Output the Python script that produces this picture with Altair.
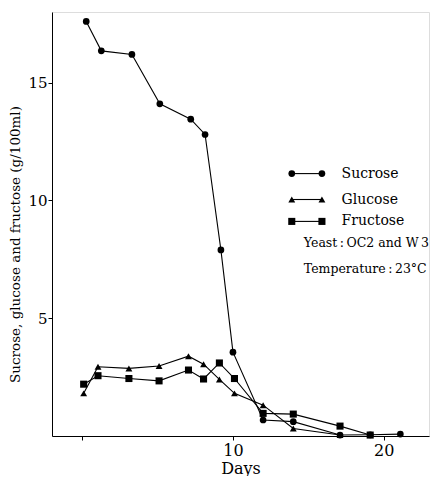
import altair as alt
import pandas as pd

# ---- data ----
sucrose_days = [0.27, 1.27, 3.3, 5.15, 7.2, 8.15, 9.2, 10.0, 12.0, 14.0, 17.1, 19.1, 21.1]
sucrose_vals = [17.6, 16.35, 16.2, 14.1, 13.45, 12.8, 7.9, 3.56, 0.68, 0.61, 0.04, 0.05, 0.08]

glucose_days = [0.1, 1.05, 3.1, 5.1, 7.05, 8.05, 9.1, 10.1, 12.0, 14.0, 17.1]
glucose_vals = [1.81, 2.94, 2.87, 2.97, 3.39, 3.05, 2.4, 1.81, 1.31, 0.32, 0.04]

fructose_days = [0.1, 1.05, 3.1, 5.1, 7.05, 8.05, 9.1, 10.1, 12.0, 14.0, 17.1, 19.1]
fructose_vals = [2.2, 2.56, 2.44, 2.34, 2.8, 2.42, 3.1, 2.44, 0.96, 0.93, 0.42, 0.04]

series_names = ["Sucrose", "Glucose", "Fructose"]
series_shapes = ["circle", "triangle-up", "square"]
note_lines = ["Yeast\u2009:\u2009OC2 and W\u20093", "Temperature\u2009:\u200923\u00b0C"]

x_ticks = [0, 10, 20]
y_ticks = [5, 10, 15]

rows = []
for name, ds, vs in zip(series_names,
                        [sucrose_days, glucose_days, fructose_days],
                        [sucrose_vals, glucose_vals, fructose_vals]):
    for d, v in zip(ds, vs):
        rows.append({"series": name, "day": d, "value": v})
df = pd.DataFrame(rows)

# legend (placed in data space inside the plot)
leg_y = [11.14, 10.04, 9.11]
leg = pd.DataFrame({"series": series_names, "x1": [13.9] * 3, "x2": [15.9] * 3,
                    "tx": [17.2] * 3, "y": leg_y})
leg_pts = pd.concat([leg.assign(px=leg["x1"]), leg.assign(px=leg["x2"])])
notes = pd.DataFrame({"text": note_lines, "x": [14.7, 14.7], "y": [8.2, 7.1]})

FONT = "DejaVu Serif"
xs = alt.Scale(domain=[-2, 23], nice=False, zero=False)
ys = alt.Scale(domain=[0, 18], nice=False)
shape_scale = alt.Scale(domain=series_names, range=series_shapes)

lines = alt.Chart(df).mark_line(color="black", strokeWidth=1.1).encode(
    x=alt.X("day:Q", scale=xs, title="Days",
            axis=alt.Axis(values=x_ticks, labelExpr="datum.value == 0 ? '' : datum.label",
                          grid=False, domainColor="black", tickColor="black",
                          tickSize=4, labelFont=FONT, labelFontSize=16, labelColor="black",
                          labelPadding=2, titleFont=FONT, titleFontSize=16,
                          titleFontWeight="normal", titleColor="black", titlePadding=2)),
    y=alt.Y("value:Q", scale=ys, title="Sucrose, glucose and fructose (g/100ml)",
            axis=alt.Axis(values=y_ticks, grid=False, domainColor="black", tickColor="black",
                          tickSize=4, labelFont=FONT, labelFontSize=15, labelColor="black",
                          labelPadding=1, titleFont=FONT, titleFontSize=13.5,
                          titleFontWeight="normal", titleColor="black", titlePadding=5,
                          titleY=232)),
    detail="series:N",
)

points = alt.Chart(df).mark_point(filled=True, color="black", opacity=1).encode(
    x=alt.X("day:Q", scale=xs),
    y=alt.Y("value:Q", scale=ys),
    shape=alt.Shape("series:N", scale=shape_scale, legend=None),
    size=alt.Size("series:N", scale=alt.Scale(domain=series_names, range=[45, 50, 42]), legend=None),
)

leg_lines = alt.Chart(leg).mark_rule(color="black", strokeWidth=1.1).encode(
    x=alt.X("x1:Q", scale=xs), x2="x2:Q", y=alt.Y("y:Q", scale=ys))
leg_marks = alt.Chart(leg_pts).mark_point(filled=True, color="black", opacity=1).encode(
    x=alt.X("px:Q", scale=xs), y=alt.Y("y:Q", scale=ys),
    shape=alt.Shape("series:N", scale=shape_scale, legend=None),
    size=alt.Size("series:N", scale=alt.Scale(domain=series_names, range=[40, 45, 38]), legend=None))
leg_text = alt.Chart(leg).mark_text(align="left", baseline="middle", font=FONT,
                                    fontSize=14, color="black").encode(
    x=alt.X("tx:Q", scale=xs), y=alt.Y("y:Q", scale=ys), text="series:N")
note_text = alt.Chart(notes).mark_text(align="left", baseline="middle", font=FONT,
                                       fontSize=12.5, color="black").encode(
    x=alt.X("x:Q", scale=xs), y=alt.Y("y:Q", scale=ys), text="text:N")

chart = alt.layer(lines, points, leg_lines, leg_marks, leg_text, note_text).properties(
    width=377, height=424,
    padding={"left": 0, "top": 4, "right": 0, "bottom": 0},
).configure_view(stroke=None).configure(background="white")

chart.save("out.html", embed_options={"renderer": "svg", "actions": False})
